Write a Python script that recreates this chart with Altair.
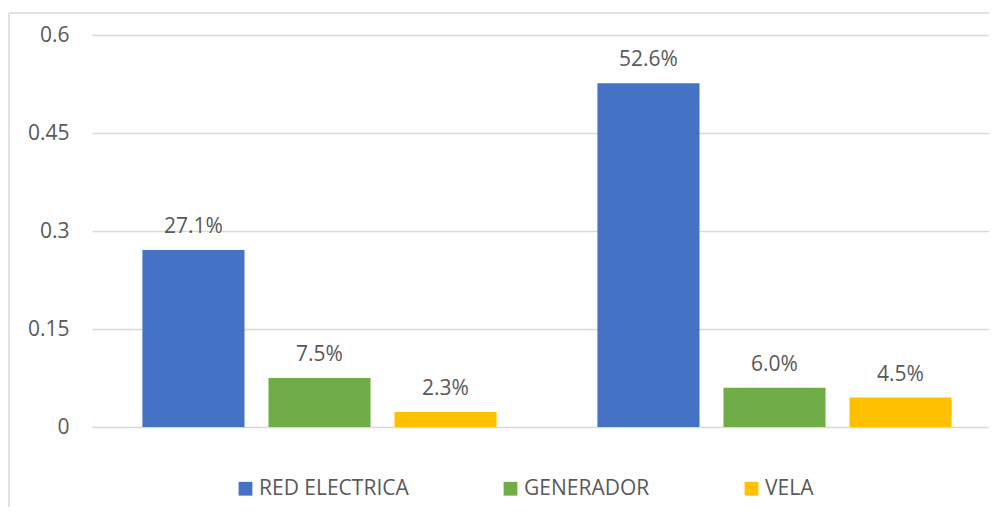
import altair as alt
import pandas as pd

groups = ["1", "2"]
series = ["RED ELECTRICA", "GENERADOR", "VELA"]
values_g1 = [0.271, 0.075, 0.023]
values_g2 = [0.526, 0.060, 0.045]
colors = ["#4472C4", "#70AD47", "#FFC000"]
y_ticks = [0, 0.15, 0.3, 0.45, 0.6]

rows = []
for g, vals in zip(groups, [values_g1, values_g2]):
    for s, v in zip(series, vals):
        rows.append({"grupo": g, "serie": s, "valor": v})
df = pd.DataFrame(rows)

W, H = 897, 392
FONT = "Open Sans"
GRAY = "#595959"
FS = 21

x = alt.X("grupo:N", sort=groups, axis=None,
          scale=alt.Scale(paddingInner=0, paddingOuter=0, range=[0, 910]))
xo = alt.XOffset("serie:N", sort=series,
                 scale=alt.Scale(paddingInner=0.19, paddingOuter=0.4))
y = alt.Y("valor:Q", scale=alt.Scale(domain=[0, 0.6], nice=False),
          axis=alt.Axis(values=y_ticks, format=".2~f", title=None, ticks=False,
                        domain=False, gridColor="#d9d9d9", gridWidth=1.5,
                        labelColor=GRAY, labelFont=FONT, labelFontSize=FS,
                        labelPadding=23))

base = alt.Chart(df)

bars = base.mark_bar().encode(
    x=x, xOffset=xo, y=y,
    color=alt.Color("serie:N", sort=series,
                    scale=alt.Scale(domain=series, range=colors),
                    legend=alt.Legend(title=None, orient="none", legendX=143, legendY=443,
                                      direction="horizontal", columns=3,
                                      symbolType="square", symbolSize=190,
                                      symbolStrokeWidth=0, labelFont=FONT,
                                      labelFontSize=FS, labelColor=GRAY,
                                      labelOffset=3, columnPadding=91, padding=0,
                                      labelLimit=400)),
)

labels = base.mark_text(baseline="bottom", dy=-13, font=FONT, fontSize=FS, color=GRAY).encode(
    x=x, xOffset=xo, y=alt.Y("valor:Q"),
    text=alt.Text("valor:Q", format=".1%"),
)

border_df = pd.DataFrame({"k": [0]})
border_top = alt.Chart(border_df).mark_rule(color="#d9d9d9", strokeWidth=1.5, clip=False).encode(
    x=alt.value(-83), x2=alt.value(W + 20), y=alt.value(-22)
)
border_left = alt.Chart(border_df).mark_rule(color="#d9d9d9", strokeWidth=1.5, clip=False).encode(
    x=alt.value(-83), y=alt.value(-22), y2=alt.value(H + 120)
)

chart = alt.layer(bars, labels, border_top, border_left).properties(
    width=W, height=H,
    autosize=alt.AutoSizeParams(type="none"),
    padding={"left": 84, "top": 27, "right": 0, "bottom": 80},
    background="white",
).configure_view(stroke=None)

chart.save("out.html", embed_options={"renderer": "svg", "actions": False})
